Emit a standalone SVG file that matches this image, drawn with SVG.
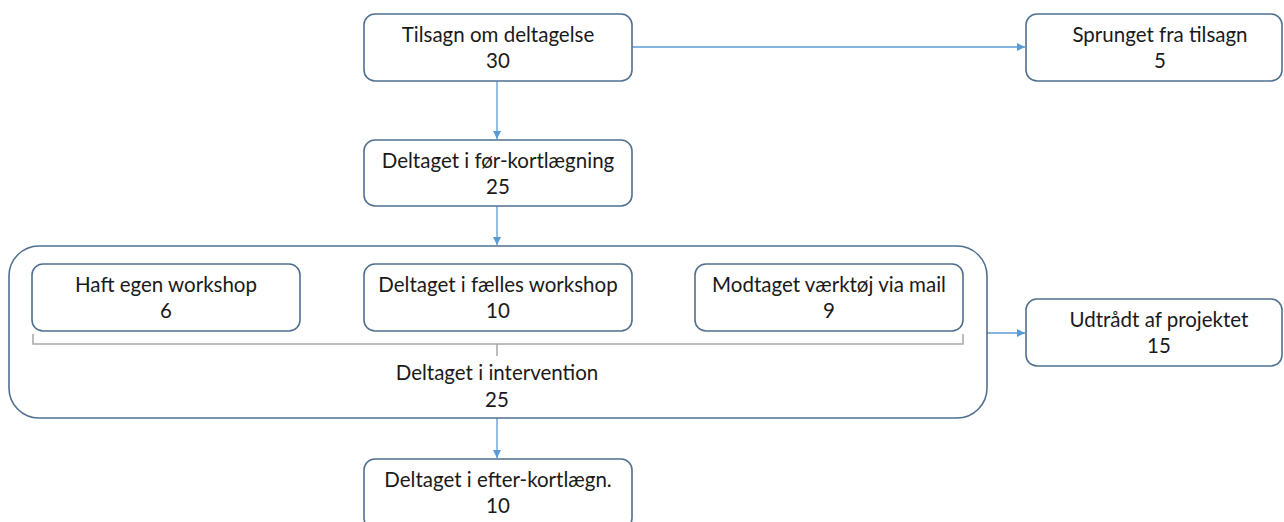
<svg xmlns="http://www.w3.org/2000/svg" width="1284" height="522" viewBox="0 0 1284 522">
<defs>
<style>
.box{fill:#fff;stroke:#50708f;stroke-width:1.6}
.t{font-family:Lato,"Open Sans","Liberation Sans",sans-serif;font-size:20.5px;fill:#1a1a1a;text-anchor:middle}
.c{stroke:#5b9bd5;stroke-width:1.3;fill:none}
.br{stroke:#a6a6a6;stroke-width:1.5;fill:none}
</style>
<marker id="a" viewBox="0 0 10 10" refX="10" refY="5" markerWidth="8" markerHeight="8" markerUnits="userSpaceOnUse" orient="auto">
<path d="M0,0 L10,5 L0,10 z" fill="#5b9bd5"/>
</marker>
</defs>
<rect width="1284" height="522" fill="#fff"/>
<g id="connectors">
<path class="c" d="M632,47 H1025" marker-end="url(#a)"/>
<path class="c" d="M497,81 V139" marker-end="url(#a)"/>
<path class="c" d="M497,206 V245" marker-end="url(#a)"/>
<path class="c" d="M987,333 H1025" marker-end="url(#a)"/>
<path class="c" d="M497,418 V458" marker-end="url(#a)"/>
</g>
<g id="container">
<rect class="box" x="9" y="246" width="978" height="172" rx="30"/>
<path class="br" d="M33,334 V344 H963 V334 M497,344 V356"/>
<text class="t" x="497" y="380">Deltaget i intervention</text>
<text class="t" x="497" y="407">25</text>
</g>
<g id="n1">
<rect class="box" x="364" y="14" width="268" height="67" rx="11"/>
<text class="t" x="498" y="42">Tilsagn om deltagelse</text>
<text class="t" x="498" y="68">30</text>
</g>
<g id="n2">
<rect class="box" x="1026" y="14" width="256" height="67" rx="11"/>
<text class="t" x="1160" y="42">Sprunget fra tilsagn</text>
<text class="t" x="1160" y="68">5</text>
</g>
<g id="n3">
<rect class="box" x="364" y="140" width="268" height="66" rx="11"/>
<text class="t" x="498" y="168">Deltaget i før-kortlægning</text>
<text class="t" x="498" y="194">25</text>
</g>
<g id="n4">
<rect class="box" x="32" y="264" width="268" height="67" rx="11"/>
<text class="t" x="166" y="292">Haft egen workshop</text>
<text class="t" x="166" y="318">6</text>
</g>
<g id="n5">
<rect class="box" x="364" y="264" width="268" height="67" rx="11"/>
<text class="t" x="498" y="292">Deltaget i fælles workshop</text>
<text class="t" x="498" y="318">10</text>
</g>
<g id="n6">
<rect class="box" x="695" y="264" width="268" height="67" rx="11"/>
<text class="t" x="829" y="292">Modtaget værktøj via mail</text>
<text class="t" x="829" y="318">9</text>
</g>
<g id="n7">
<rect class="box" x="1026" y="299" width="256" height="67" rx="11"/>
<text class="t" x="1159" y="327">Udtrådt af projektet</text>
<text class="t" x="1159" y="353">15</text>
</g>
<g id="n8">
<rect class="box" x="364" y="459" width="268" height="70" rx="11"/>
<text class="t" x="498" y="487">Deltaget i efter-kortlægn.</text>
<text class="t" x="498" y="513">10</text>
</g>
</svg>
